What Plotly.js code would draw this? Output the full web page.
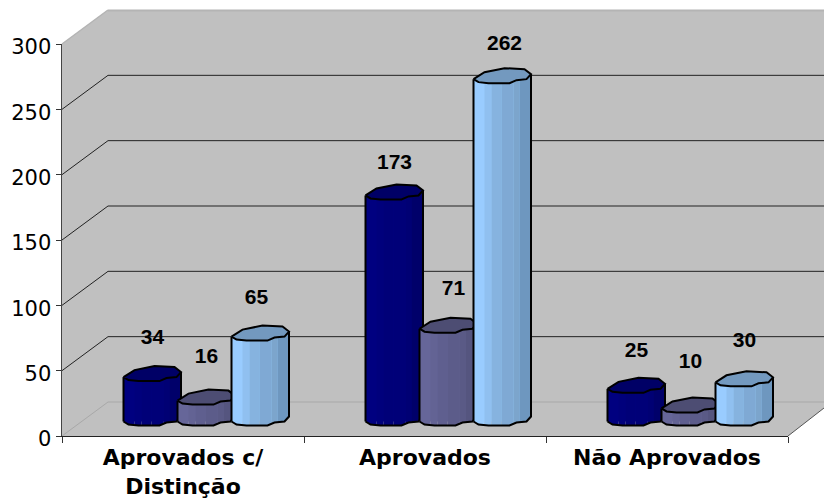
<!DOCTYPE html>
<html>
<head>
<meta charset="utf-8">
<script src="https://cdn.plot.ly/plotly-3.0.1.min.js"></script>
<style>html,body{margin:0;padding:0;background:#fff;overflow:hidden}</style>
</head>
<body>
<div id="chart" style="width:824px;height:499px"></div>
<script>
// ---- data ----
const categories = ['Aprovados c/<br>Distinção', 'Aprovados', 'Não Aprovados'];
const seriesNames = ['Série 1', 'Série 2', 'Série 3'];
const serie1 = [34, 173, 25];
const serie2 = [16, 71, 10];
const serie3 = [65, 262, 30];
const yTicks = [0, 50, 100, 150, 200, 250, 300];

// ---- styling ----
const allSeries = [serie1, serie2, serie3];
const stripEdges = [0, 11, 18, 28, 40, 46, 57.5];
const palettes = [
  ['#000080', '#00007c', '#000078', '#000078', '#000074', '#00006a'],
  ['#666699', '#636394', '#5f5f8f', '#5c5c8a', '#5a5a86', '#55557f'],
  ['#99ccff', '#90c0f0', '#86b3df', '#7fa9d4', '#7ca5cc', '#6e97bf']
];
const capColors = ['#000066', '#4d4d73', '#7399bf'];
// label lift above each bar's top-left corner, px (series x category)
const labelLift = [[38, 32, 37], [43, 39, 46], [38, 34, 41]];
const labelShift = [[0, 0, 0], [0, 5, 0], [-4, 2, 0]];

// geometry of the pseudo-3D frame (px)
const L = 62, R = 788, T = 44, B = 436, W = 824, H = 499;
const DX = 46, DY = 34;
const pxPerUnit = (B - T) / 300;
const catW = (R - L) / 3;
const baseLift = 14.5 / pxPerUnit;      // bars stand forward of the axis line
const px = x => (x - L) / (R - L);
const py = y => (B - y) / (B - T);
const valY = v => B - v * pxPerUnit;

// cylinder outline profile, px offset from the bar's left edge / left corner
const lower = [[0, 0], [5, 3], [15, 4], [36, 4], [43, 1], [53, 0], [57.5, -5]];
const upper = [[0, 0], [11, -7], [31, -11], [51, -10], [57.5, -5]];
function lowerAt(dx) {
  for (let k = 1; k < lower.length; k++) {
    if (dx <= lower[k][0]) {
      const a = lower[k - 1], b = lower[k];
      return a[1] + (b[1] - a[1]) * (dx - a[0]) / (b[0] - a[0]);
    }
  }
  return lower[lower.length - 1][1];
}
const X = (i, s, dx) => i - 0.5 + (61.5 + 54 * s + dx) / catW;
const Y = (level, dy) => level + baseLift - dy / pxPerUnit;

const traces = [];

// real bars on the category axis (covered by the shaded cylinder skin)
allSeries.forEach((vals, s) => {
  traces.push({
    type: 'bar', name: seriesNames[s], x: categories, y: vals,
    base: vals.map(() => baseLift),
    width: 48 / catW, offset: (66.5 + 54 * s - catW / 2) / catW,
    marker: {color: palettes[s][0], line: {width: 0}},
    xaxis: 'x', yaxis: 'y', showlegend: false, hoverinfo: 'skip'
  });
});

// shaded skin, outline and cap of each cylinder
allSeries.forEach((vals, s) => {
  for (let k = 0; k < stripEdges.length - 1; k++) {
    const xs = [], ys = [];
    const a = stripEdges[k], b = stripEdges[k + 1];
    const cuts = [a].concat(lower.map(p => p[0]).filter(d => d > a && d < b), [b]);
    vals.forEach((v, i) => {
      cuts.forEach(d => { xs.push(X(i, s, d)); ys.push(Y(v, lowerAt(d))); });
      cuts.slice().reverse().forEach(d => { xs.push(X(i, s, d)); ys.push(Y(0, lowerAt(d))); });
      xs.push(null); ys.push(null);
    });
    traces.push({type: 'scatter', mode: 'lines', x: xs, y: ys, xaxis: 'x2', yaxis: 'y',
      fill: 'toself', fillcolor: palettes[s][k], line: {width: 0}, showlegend: false, hoverinfo: 'skip'});
  }
  const ox = [], oy = [], cx = [], cy = [];
  vals.forEach((v, i) => {
    lower.forEach(p => { ox.push(X(i, s, p[0])); oy.push(Y(0, p[1])); });
    ox.push(X(i, s, 57.5)); oy.push(Y(v, -5));
    ox.push(null); oy.push(null);
    ox.push(X(i, s, 0)); oy.push(Y(v, 0));
    ox.push(X(i, s, 0)); oy.push(Y(0, 0));
    ox.push(null); oy.push(null);
    upper.forEach(p => { cx.push(X(i, s, p[0])); cy.push(Y(v, p[1])); });
    lower.slice().reverse().slice(1).forEach(p => { cx.push(X(i, s, p[0])); cy.push(Y(v, p[1])); });
    cx.push(null); cy.push(null);
  });
  traces.push({type: 'scatter', mode: 'lines', x: ox, y: oy, xaxis: 'x2', yaxis: 'y',
    line: {color: '#000', width: 2}, showlegend: false, hoverinfo: 'skip'});
  traces.push({type: 'scatter', mode: 'lines', x: cx, y: cy, xaxis: 'x2', yaxis: 'y',
    fill: 'toself', fillcolor: capColors[s], line: {color: '#000', width: 2}, showlegend: false, hoverinfo: 'skip'});
});

// data labels
allSeries.forEach((vals, s) => {
  traces.push({
    type: 'scatter', mode: 'text', xaxis: 'x2', yaxis: 'y', cliponaxis: false,
    x: vals.map((v, i) => X(i, s, 29 + labelShift[s][i])),
    y: vals.map((v, i) => Y(v, -labelLift[s][i])),
    text: vals.map(String), textposition: 'middle center',
    textfont: {family: '"Liberation Sans", Arial, sans-serif', size: 21, color: '#000', weight: 700},
    showlegend: false, hoverinfo: 'skip'
  });
});

// walls and gridlines (paper space, gridlines follow the value scale)
const poly = pts => 'M' + pts.map(p => px(p[0]) + ',' + py(p[1])).join('L') + 'Z';
const shapes = [{
  type: 'path', xref: 'paper', yref: 'paper', layer: 'below',
  path: poly([[L, T], [L + DX, T - DY], [W, T - DY], [W, 408], [R, B], [L, B]]),
  fillcolor: '#c0c0c0', line: {width: 0}
}, {
  type: 'line', xref: 'paper', yref: 'paper', layer: 'below',
  x0: px(L + DX), x1: px(W), y0: py(T - DY + 0.5), y1: py(T - DY + 0.5),
  line: {color: '#b4b4b4', width: 2}
}, {
  type: 'line', xref: 'paper', yref: 'paper', layer: 'below',
  x0: px(L), x1: px(L + DX), y0: py(T), y1: py(T - DY),
  line: {color: '#b4b4b4', width: 1.5}
}, {
  type: 'line', xref: 'paper', yref: 'paper', layer: 'below',
  x0: px(R), x1: px(W), y0: py(B), y1: py(408),
  line: {color: '#555', width: 1}
}];
yTicks.slice(0, -1).forEach(v => {
  const c = v === 0 ? '#a8a8a8' : '#222';
  const yy = valY(v);
  shapes.push({type: 'line', xref: 'paper', yref: 'paper', layer: 'below',
    x0: px(L), x1: px(L + DX), y0: py(yy), y1: py(yy - DY), line: {color: c, width: 1}});
  shapes.push({type: 'line', xref: 'paper', yref: 'paper', layer: 'below',
    x0: px(L + DX), x1: px(W), y0: py(yy - DY), y1: py(yy - DY), line: {color: c, width: 1}});
});

const layout = {
  width: W, height: H, autosize: false,
  margin: {l: L, r: W - R, t: T, b: H - B, pad: 0},
  paper_bgcolor: '#fff', plot_bgcolor: 'rgba(0,0,0,0)',
  barmode: 'overlay', showlegend: false, shapes: shapes,
  xaxis: {
    type: 'category', categoryorder: 'array', categoryarray: categories,
    range: [-0.5, 2.5], tickson: 'boundaries', ticks: 'outside', ticklen: 6, tickwidth: 1, tickcolor: '#333',
    showline: true, linecolor: '#222', linewidth: 1, showgrid: false, zeroline: false,
    tickfont: {family: '"DejaVu Sans", Verdana, sans-serif', size: 22, color: '#000', weight: 700},
    tickangle: 0, automargin: false, ticklabelstandoff: 2
  },
  xaxis2: {
    type: 'linear', range: [-0.5, 2.5], overlaying: 'x', side: 'bottom', visible: false,
    showgrid: false, zeroline: false, fixedrange: true
  },
  yaxis: {
    range: [0, 300], tickmode: 'array', tickvals: yTicks, ticktext: yTicks.map(String),
    ticks: 'outside', ticklen: 5, tickwidth: 1, tickcolor: '#333',
    showline: true, linecolor: '#444', linewidth: 1.5, showgrid: false, zeroline: false,
    tickfont: {family: '"DejaVu Sans", Verdana, sans-serif', size: 21, color: '#000'},
    automargin: false, ticklabelshift: 3
  }
};
Plotly.newPlot('chart', traces, layout, {displayModeBar: false, staticPlot: true});
</script>
</body>
</html>
